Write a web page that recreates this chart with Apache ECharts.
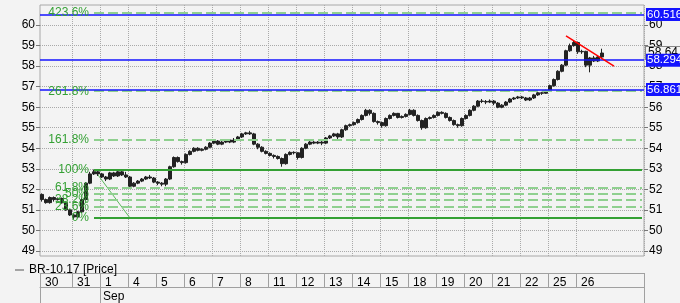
<!DOCTYPE html>
<html><head><meta charset="utf-8">
<script src="https://cdn.jsdelivr.net/npm/echarts@6/dist/echarts.min.js"></script>
<style>html,body{margin:0;padding:0;background:#f3f3f3}#c{width:680px;height:303px}</style>
</head><body><div id="c"></div>
<script>
// ---- data ----
const days = ['30','31','1','4','5','6','7','8','11','12','13','14','15','18','19','20','21','22','25','26'];
const barsPerDay = [8,7,7,7,7,7,7,7,7,7,7,7,7,7,7,7,7,7,7,7];
const trailingSlots = 10;
const months = ['Sep'];
const monthStartDays = ['1'];
const seriesName = 'BR-10.17 [Price]';
const yLabels = [49,50,51,52,53,54,55,56,57,58,59,60];

const opens = [
 51.75,51.5,51.35,51.6,51.5,51.55,51.35,51.0,
 50.75,50.65,50.9,51.5,52.3,52.75,52.85,
 52.75,52.6,52.5,52.8,52.65,52.85,52.7,
 52.6,52.15,52.3,52.4,52.5,52.6,52.55,
 52.35,52.3,52.25,52.5,53.1,53.55,53.35,
 53.3,53.7,53.85,54.0,53.9,53.95,54.05,
 54.25,54.35,54.2,54.3,54.4,54.3,54.4,
 54.55,54.7,54.75,54.7,54.2,54.05,53.85,
 53.75,53.65,53.6,53.5,53.25,53.7,53.8,
 53.78,53.55,54.0,54.2,54.3,54.25,54.3,
 54.25,54.5,54.6,54.7,54.55,54.9,55.1,
 55.15,55.25,55.4,55.6,55.85,55.7,55.3,
 55.25,55.1,55.45,55.6,55.7,55.5,55.55,
 55.65,55.85,55.6,55.35,55.0,55.45,55.5,
 55.6,55.75,55.7,55.5,55.35,55.15,55.1,
 55.45,55.6,55.85,56.05,56.3,56.28,56.25,
 56.3,56.2,56.0,56.1,56.25,56.4,56.45,
 56.5,56.45,56.35,56.45,56.6,56.7,56.68,
 56.8,57.05,57.35,57.75,58.05,58.75,59.0,
 59.15,58.7,58.72,58.05,58.4,58.25,58.45
];
const closes = [
 51.5,51.35,51.6,51.5,51.55,51.35,51.0,50.75,
 50.65,50.9,51.5,52.3,52.75,52.85,52.75,
 52.6,52.5,52.8,52.65,52.85,52.7,52.6,
 52.15,52.3,52.4,52.5,52.6,52.55,52.35,
 52.3,52.25,52.5,53.1,53.55,53.35,53.3,
 53.7,53.85,54.0,53.9,53.95,54.05,54.25,
 54.35,54.2,54.3,54.4,54.3,54.4,54.55,
 54.7,54.75,54.7,54.2,54.05,53.85,53.75,
 53.65,53.6,53.5,53.25,53.7,53.8,53.78,
 53.55,54.0,54.2,54.3,54.25,54.3,54.25,
 54.5,54.6,54.7,54.55,54.9,55.1,55.15,
 55.25,55.4,55.6,55.85,55.7,55.3,55.25,
 55.1,55.45,55.6,55.7,55.5,55.55,55.65,
 55.85,55.6,55.35,55.0,55.45,55.5,55.6,
 55.75,55.7,55.5,55.35,55.15,55.1,55.45,
 55.6,55.85,56.05,56.3,56.28,56.25,56.3,
 56.2,56.0,56.1,56.25,56.4,56.45,56.5,
 56.45,56.35,56.45,56.6,56.7,56.68,56.8,
 57.05,57.35,57.75,58.05,58.75,59.0,59.15,
 58.7,58.72,58.05,58.4,58.25,58.45,58.64
];
const lows = [
 51.4,51.3,51.3,51.4,51.45,51.3,50.95,50.7,
 50.55,50.6,50.85,51.45,52.25,52.7,52.65,
 52.55,52.4,52.45,52.6,52.6,52.65,52.55,
 52.05,52.1,52.25,52.35,52.45,52.5,52.3,
 52.2,52.15,52.15,52.45,53.05,53.3,53.2,
 53.25,53.65,53.8,53.85,53.85,53.9,54.0,
 54.2,54.15,54.15,54.25,54.25,54.25,54.35,
 54.5,54.65,54.65,54.15,53.95,53.8,53.7,
 53.6,53.5,53.45,53.1,53.2,53.65,53.7,
 53.45,53.5,53.95,54.15,54.2,54.2,54.15,
 54.2,54.45,54.55,54.4,54.5,54.85,55.05,
 55.1,55.2,55.35,55.55,55.6,55.25,55.15,
 55.0,55.05,55.4,55.55,55.45,55.45,55.5,
 55.6,55.55,55.3,54.9,54.95,55.4,55.45,
 55.55,55.65,55.45,55.3,55.1,55.0,55.05,
 55.4,55.55,55.8,56.0,56.2,56.15,56.2,
 56.1,55.95,55.95,56.05,56.2,56.35,56.4,
 56.4,56.3,56.3,56.4,56.55,56.6,56.65,
 56.75,57.0,57.3,57.7,58.0,58.7,58.95,
 58.6,58.6,57.95,57.7,58.2,58.2,58.4
];
const highs = [
 51.8,51.55,51.65,51.65,51.6,51.6,51.4,51.05,
 50.8,50.95,51.6,52.35,52.85,52.96,52.9,
 52.8,52.65,52.85,52.85,52.9,52.9,52.85,
 52.65,52.35,52.45,52.55,52.65,52.7,52.6,
 52.4,52.35,52.55,53.15,53.6,53.6,53.4,
 53.75,53.9,54.05,54.05,54.0,54.1,54.3,
 54.4,54.4,54.35,54.45,54.45,54.5,54.6,
 54.75,54.8,54.85,54.75,54.25,54.1,53.9,
 53.8,53.7,53.65,53.55,53.75,53.85,53.85,
 53.8,54.05,54.25,54.35,54.35,54.35,54.35,
 54.55,54.65,54.75,54.75,54.95,55.15,55.2,
 55.3,55.45,55.65,55.92,55.9,55.75,55.35,
 55.3,55.5,55.65,55.75,55.72,55.6,55.7,
 55.92,55.9,55.65,55.4,55.5,55.55,55.65,
 55.8,55.8,55.75,55.55,55.4,55.2,55.5,
 55.65,55.9,56.1,56.35,56.4,56.35,56.38,
 56.35,56.25,56.15,56.3,56.45,56.5,56.55,
 56.55,56.5,56.5,56.65,56.75,56.75,56.85,
 57.1,57.4,57.8,58.1,58.8,59.1,59.25,
 59.2,58.8,58.75,58.45,58.5,58.5,58.85
];

// Fibonacci tool
const fibLow = 50.6, fibHigh = 52.96;
const fibRatios = [0, 23.6, 38.2, 50, 61.8, 100, 161.8, 261.8, 423.6];
const fibAnchorBars = [13, 22];
// horizontal price levels
const levels = [60.516, 58.294, 56.861];
const lastPrice = 58.64;
// trend line (bar index, price)
const trendLine = [[131, 59.48], [143, 58.0]];

// ---- build categories ----
const cats = [];
const dayStart = {};
days.forEach((d, i) => {
  for (let k = 0; k < barsPerDay[i]; k++) {
    if (k === 0) dayStart[cats.length] = d;
    cats.push(d + '_' + k);
  }
});
for (let k = 0; k < trailingSlots; k++) cats.push('pad' + k);
const monthStart = {};
Object.keys(dayStart).forEach(idx => {
  const m = monthStartDays.indexOf(dayStart[idx]);
  if (m >= 0) monthStart[idx] = months[m];
});
const candles = opens.map((o, i) => [o, closes[i], lows[i], highs[i]]);

const FONT = 'Liberation Sans, Arial, sans-serif';
const GRID_COL = '#a9a9a9';
const TABLE_COL = '#a0a0a0';
const GREEN = '#34a034';
const LIGHT_GREEN = '#8fd08f';
const BLUE = '#1414ff';

const fibData = fibRatios.map(r => {
  const v = fibLow + (fibHigh - fibLow) * r / 100;
  const solid = (r === 0 || r === 100);
  return [
    { coord: [fibAnchorBars[0], v],
      lineStyle: solid ? { color: GREEN, width: 2, type: 'solid' }
                       : { color: LIGHT_GREEN, width: 2, type: [10, 4] },
      label: { formatter: r + '%' } },
    { coord: [cats.length - 1, v] }
  ];
});

const yBase = {
  type: 'value', min: 48.75, max: 60.98, splitNumber: 12,
  axisLine: { show: false },
  axisTick: { show: true, length: 4, lineStyle: { color: '#777' }, customValues: yLabels },
  axisLabel: { color: '#000', fontSize: 12, fontFamily: FONT, margin: 5, customValues: yLabels,
               formatter: v => Number.isInteger(v) ? String(v) : '' },
};

const chart = echarts.init(document.getElementById('c'), null, { renderer: 'canvas' });
chart.setOption({
  animation: false,
  backgroundColor: '#f3f3f3',
  textStyle: { fontFamily: FONT },
  grid: { left: 40, right: 36, top: 5, bottom: 47, show: true, borderColor: '#a8a8a8', borderWidth: 1, backgroundColor: '#f3f3f3' },
  legend: {
    left: 10, top: 259, itemWidth: 9, itemHeight: 1, itemGap: 5,
    textStyle: { fontSize: 12, color: '#000', fontFamily: FONT },
    data: [{ name: seriesName, icon: 'rect', itemStyle: { color: '#555', borderWidth: 0 } }]
  },
  xAxis: [
    {
      type: 'category', data: cats, boundaryGap: true, position: 'bottom', offset: 17,
      axisLine: { show: true, lineStyle: { color: TABLE_COL } },
      axisTick: { show: true, interval: i => (i in dayStart), length: 14, lineStyle: { color: TABLE_COL } },
      axisLabel: { interval: i => (i in dayStart), formatter: (v, i) => dayStart[i] || '',
                   align: 'left', padding: [0, 0, 0, 3], margin: 4, fontSize: 12, color: '#000', fontFamily: FONT },
      splitLine: { show: true, interval: i => (i in dayStart) && i > 0, lineStyle: { type: 'dotted', color: GRID_COL } }
    },
    {
      type: 'category', data: cats, boundaryGap: true, position: 'bottom', offset: 31,
      axisLine: { show: true, lineStyle: { color: TABLE_COL } },
      axisTick: { show: true, interval: i => i === 0 || (i in monthStart), length: 20, lineStyle: { color: TABLE_COL } },
      axisLabel: { interval: i => (i in monthStart), formatter: (v, i) => monthStart[i] || '',
                   align: 'left', padding: [0, 0, 0, 1], margin: 4, fontSize: 12, color: '#000', fontFamily: FONT },
      splitLine: { show: false }
    }
  ],
  yAxis: [
    Object.assign({}, yBase, { position: 'left',
      splitLine: { show: true, lineStyle: { type: 'dotted', color: GRID_COL } } }),
    Object.assign({}, yBase, { position: 'right', splitLine: { show: false } })
  ],
  series: [
    {
      name: seriesName, type: 'candlestick', xAxisIndex: 0, yAxisIndex: 0,
      data: candles, barWidth: 3, z: 3,
      itemStyle: { color: '#222', color0: '#222', borderColor: '#222', borderColor0: '#222', borderWidth: 1 }
    },
    {
      type: 'line', name: 'fib', data: [], xAxisIndex: 0, yAxisIndex: 0, silent: true, z: 2,
      markLine: {
        symbol: ['none', 'none'], silent: true, animation: false,
        label: { position: 'start', color: GREEN, fontSize: 12, fontFamily: FONT, distance: 5 },
        data: fibData
      }
    },
    {
      type: 'line', name: 'fibDiag', data: fibAnchorBars.map((b, i) => [b, i === 0 ? fibHigh : fibLow]),
      symbol: 'none', silent: true, z: 2, lineStyle: { color: '#5cb85c', width: 1 }
    },
    {
      type: 'line', name: 'levels', data: [], silent: true, z: 4,
      markLine: {
        symbol: ['none', 'none'], silent: true, animation: false,
        lineStyle: { color: BLUE, width: 1.5, type: 'solid' },
        label: { position: 'end', distance: 2, color: '#fff', backgroundColor: BLUE, padding: [1, 1, 0, 1],
                 fontSize: 11.5, fontFamily: FONT },
        data: [
          { yAxis: lastPrice, lineStyle: { width: 0, color: 'rgba(0,0,0,0)' },
            label: { formatter: String(lastPrice), color: '#000', backgroundColor: '#f3f3f3', fontSize: 12,
                     borderColor: '#888', borderWidth: 1, padding: [0, 2, 0, 2] } }
        ].concat(levels.map(v => ({ yAxis: v, label: { formatter: String(v) } })))
      }
    },
    {
      type: 'line', name: 'trend', data: trendLine, symbol: 'none', silent: true, z: 5,
      lineStyle: { color: '#ff0000', width: 1.5 }
    }
  ]
});
</script></body></html>
